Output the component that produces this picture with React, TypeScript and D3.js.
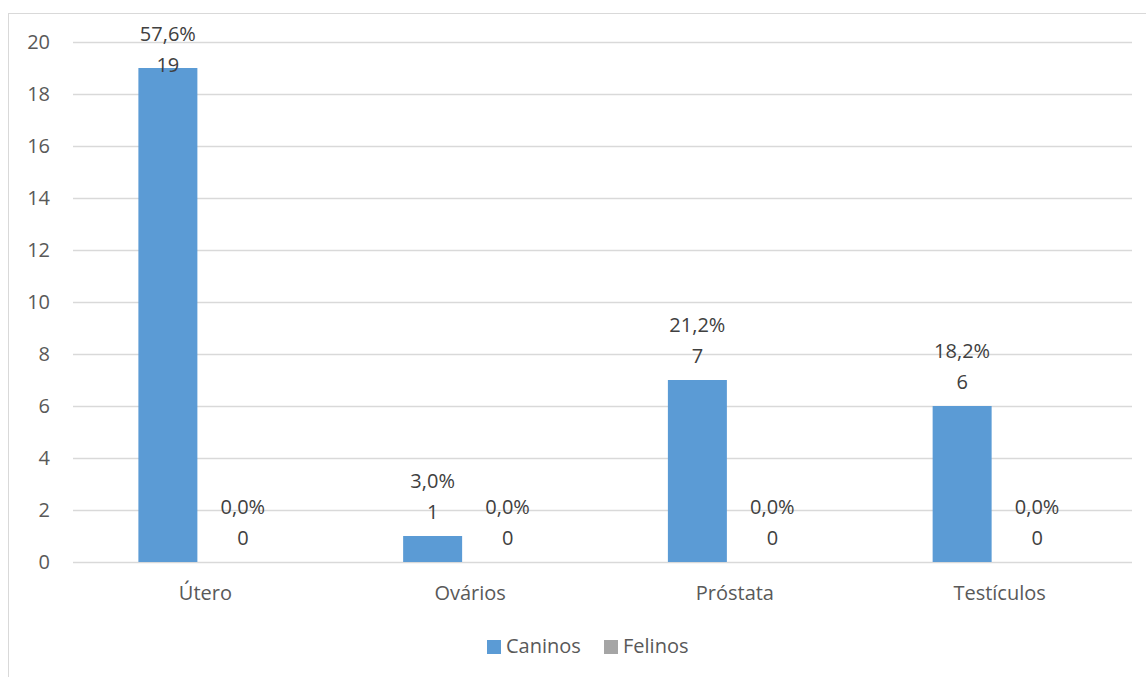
import React from "react";
import * as d3 from "d3";

const categories = ["Útero", "Ovários", "Próstata", "Testículos"];
const series = ["Caninos", "Felinos"];
const caninos = [19, 1, 7, 6];
const felinos = [0, 0, 0, 0];
const caninosPct = ["57,6%", "3,0%", "21,2%", "18,2%"];
const felinosPct = ["0,0%", "0,0%", "0,0%", "0,0%"];
const yTicks = [0, 2, 4, 6, 8, 10, 12, 14, 16, 18, 20];
const colors = ["#5B9BD5", "#A5A5A5"];

const W = 1146;
const H = 677;
const FONT = "'Open Sans', 'Noto Sans', sans-serif";
const TEXT = "#595959";

export default function App() {
  const left = 73;
  const right = 1132;
  const top = 42;
  const bottom = 562;

  const x0 = d3.scaleBand<string>().domain(categories).range([left, right]).padding(0);
  const x1 = d3
    .scaleBand<string>()
    .domain(series)
    .range([0, x0.bandwidth()])
    .paddingInner(0.2133)
    .paddingOuter(0.872);
  const y = d3.scaleLinear().domain([0, 20]).range([bottom, top]);

  const values = [caninos, felinos];
  const pcts = [caninosPct, felinosPct];

  return (
    <svg
      width={W}
      height={H}
      style={{ position: "absolute", left: 0, top: 0, background: "#fff" }}
      fontFamily={FONT}
    >
      <rect x={8.5} y={13.5} width={W + 20} height={H + 20} fill="#fff" stroke="#D9D9D9" strokeWidth={1} />
      {yTicks.map((t) => (
        <g key={t}>
          <line x1={left} x2={right} y1={Math.round(y(t)) + 0.5} y2={Math.round(y(t)) + 0.5} stroke="#D9D9D9" strokeWidth={1.3} />
          <text x={50} y={y(t) + 7} textAnchor="end" fontSize={20} fill={TEXT}>
            {t}
          </text>
        </g>
      ))}
      {categories.map((c, i) => (
        <g key={c}>
          {series.map((s, j) => {
            const v = values[j][i];
            const bx = (x0(c) as number) + (x1(s) as number);
            const bw = x1.bandwidth();
            const barTop = y(v);
            let b2 = barTop - 17;
            let b1 = b2 - 31;
            if (b1 < 41) {
              const d = 41 - b1;
              b1 += d;
              b2 += d;
            }
            const cx = bx + bw / 2;
            return (
              <g key={s}>
                {v > 0 && <rect x={bx} y={barTop} width={bw} height={bottom - barTop} fill={colors[j]} />}
                <text x={cx} y={b1} textAnchor="middle" fontSize={20} fill="#404040">
                  {pcts[j][i]}
                </text>
                <text x={cx} y={b2} textAnchor="middle" fontSize={20} fill="#404040">
                  {v}
                </text>
              </g>
            );
          })}
          <text
            x={(x0(c) as number) + x0.bandwidth() / 2}
            y={600}
            textAnchor="middle"
            fontSize={20}
            fill={TEXT}
          >
            {c}
          </text>
        </g>
      ))}
      <g>
        <rect x={487} y={640} width={14} height={14} fill={colors[0]} />
        <text x={506} y={653} fontSize={20} fill={TEXT}>
          {series[0]}
        </text>
        <rect x={604} y={640} width={14} height={14} fill={colors[1]} />
        <text x={623} y={653} fontSize={20} fill={TEXT}>
          {series[1]}
        </text>
      </g>
    </svg>
  );
}
